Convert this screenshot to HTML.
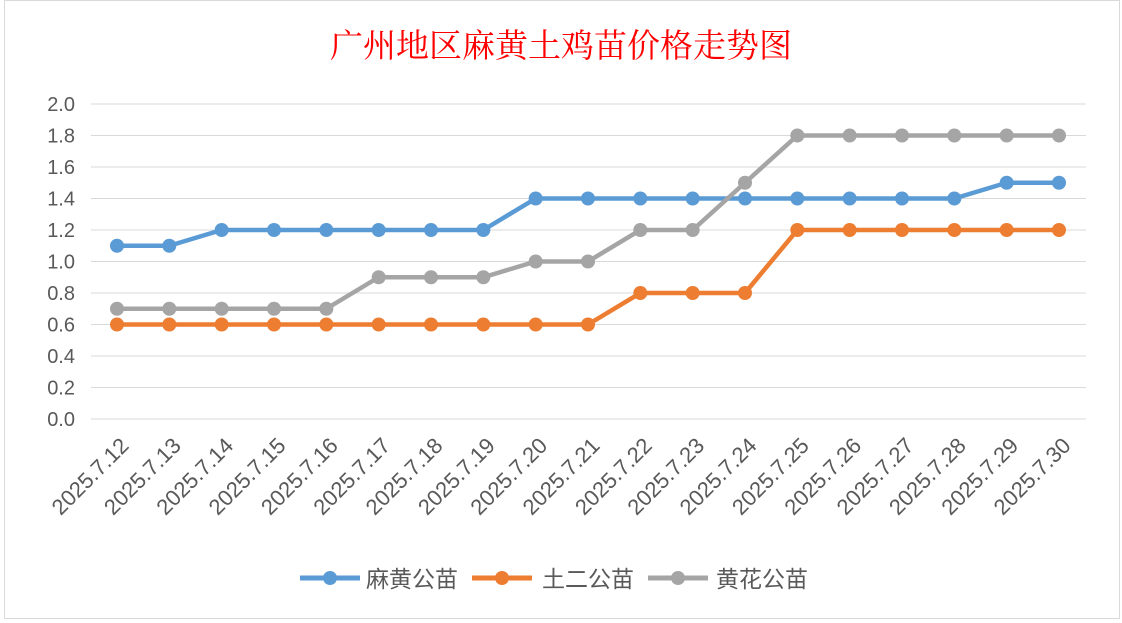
<!DOCTYPE html>
<html><head><meta charset="utf-8"><style>
body{margin:0;background:#fff;width:1122px;height:623px;overflow:hidden}
svg{display:block}
text{font-family:"Liberation Sans","Noto Sans CJK SC",sans-serif}
</style></head><body>
<svg id="chart" width="1122" height="623">
<rect x="0" y="0" width="1122" height="623" fill="#fff"/>
<rect x="4.5" y="0.5" width="1115" height="618" fill="#fff" stroke="#d9d9d9"/>
<text x="561" y="57" text-anchor="middle" fill="#ff0000" font-size="33" style="font-family:'Noto Serif CJK SC',serif">广州地区麻黄土鸡苗价格走势图</text>
<g id="grid"></g><g id="yt"></g><g id="xt"></g><g id="series"></g>
<g>
<g><line x1="300" y1="578" x2="360" y2="578" stroke="#5b9bd5" stroke-width="5"/><circle cx="330" cy="578" r="7" fill="#5b9bd5"/><text x="366" y="587" font-size="23" fill="#595959">麻黄公苗</text></g>
<g><line x1="472" y1="578" x2="532" y2="578" stroke="#ed7d31" stroke-width="5"/><circle cx="502" cy="578" r="7" fill="#ed7d31"/><text x="542" y="587" font-size="23" fill="#595959">土二公苗</text></g>
<g><line x1="648" y1="578" x2="708" y2="578" stroke="#a5a5a5" stroke-width="5"/><circle cx="678" cy="578" r="7" fill="#a5a5a5"/><text x="716" y="587" font-size="23" fill="#595959">黄花公苗</text></g>
</g>
</svg>
<script>
const categories=["2025.7.12","2025.7.13","2025.7.14","2025.7.15","2025.7.16","2025.7.17","2025.7.18","2025.7.19","2025.7.20","2025.7.21","2025.7.22","2025.7.23","2025.7.24","2025.7.25","2025.7.26","2025.7.27","2025.7.28","2025.7.29","2025.7.30"];
const mahuang=[1.1,1.1,1.2,1.2,1.2,1.2,1.2,1.2,1.4,1.4,1.4,1.4,1.4,1.4,1.4,1.4,1.4,1.5,1.5];
const tuer=[0.6,0.6,0.6,0.6,0.6,0.6,0.6,0.6,0.6,0.6,0.8,0.8,0.8,1.2,1.2,1.2,1.2,1.2,1.2];
const huanghua=[0.7,0.7,0.7,0.7,0.7,0.9,0.9,0.9,1.0,1.0,1.2,1.2,1.5,1.8,1.8,1.8,1.8,1.8,1.8];
const yTicks=["0.0","0.2","0.4","0.6","0.8","1.0","1.2","1.4","1.6","1.8","2.0"];
const NS="http://www.w3.org/2000/svg";
const x=i=>117+i*(1059-117)/(categories.length-1);
const y=v=>419-v*(419-104)/2.0;
function mk(t,a,p){const e=document.createElementNS(NS,t);for(const k in a)e.setAttribute(k,a[k]);p.appendChild(e);return e;}
const grid=document.getElementById('grid'),yt=document.getElementById('yt'),xt=document.getElementById('xt'),ser=document.getElementById('series');
yTicks.forEach(t=>{const v=parseFloat(t);
const l=mk('line',{x1:91,x2:1086,y1:y(v),y2:y(v),stroke:'#d9d9d9','stroke-width':1},grid);


const tx=mk('text',{x:75,y:y(v)+7,'text-anchor':'end','font-size':20,fill:'#595959'},yt);tx.textContent=t;

});
categories.forEach((c,i)=>{const tx=mk('text',{x:0,y:0,'text-anchor':'end','font-size':22,fill:'#595959',transform:`translate(${x(i)+13},${447}) rotate(-45)`},xt);tx.textContent=c;

});
[[mahuang,'#5b9bd5','mahuang'],[tuer,'#ed7d31','tuer'],[huanghua,'#a5a5a5','huanghua']].forEach(([d,col,n])=>{
const g=mk('g',{},ser);


const p=mk('polyline',{points:d.map((v,i)=>x(i)+','+y(v)).join(' '),fill:'none',stroke:col,'stroke-width':4.5,'stroke-linejoin':'round'},g);


d.forEach((v,i)=>{const c=mk('circle',{cx:x(i),cy:y(v),r:7,fill:col},g);

});});
</script>
</body></html>
